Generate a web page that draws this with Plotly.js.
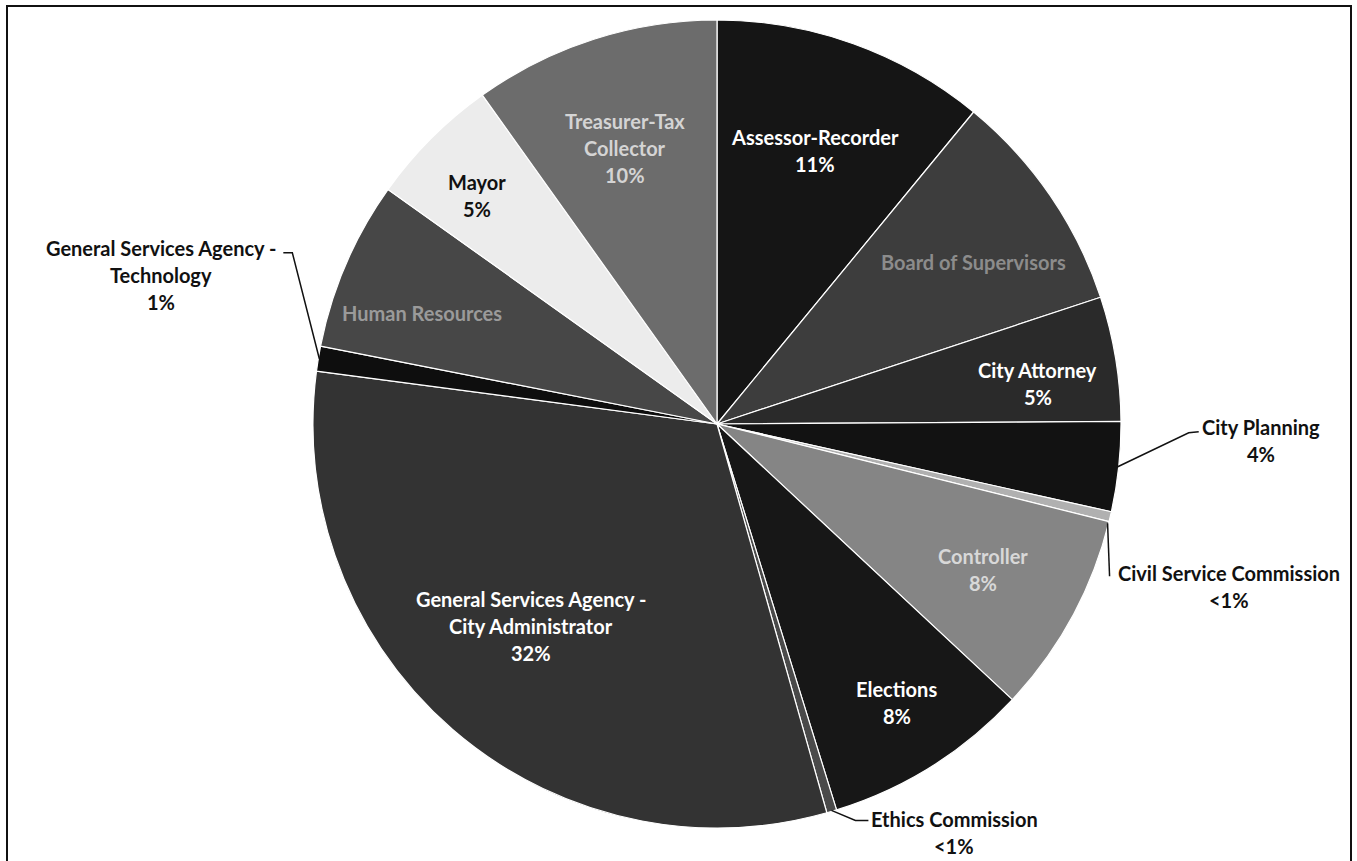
<!DOCTYPE html>
<html>
<head>
<meta charset="utf-8">
<script src="https://cdn.plot.ly/plotly-3.0.1.min.js"></script>
<style>html,body{margin:0;padding:0;background:#fff;}#chart{width:1357px;height:861px;}</style>
</head>
<body>
<div id="chart"></div>
<script>
// ---- data ----
const categories = ["Assessor-Recorder","Board of Supervisors","City Attorney","City Planning","Civil Service Commission","Controller","Elections","Ethics Commission","General Services Agency - City Administrator","General Services Agency - Technology","Human Resources","Mayor","Treasurer-Tax Collector"];
const values = [11, 9, 5, 3.6, 0.4, 8.1, 8.3, 0.4, 31.6, 1.0, 6.8, 5.3, 9.9];
const labelLines = [
  ["Assessor-Recorder","11%"],
  ["Board of Supervisors"],
  ["City Attorney","5%"],
  ["City Planning","4%"],
  ["Civil Service Commission","&lt;1%"],
  ["Controller","8%"],
  ["Elections","8%"],
  ["Ethics Commission","&lt;1%"],
  ["General Services Agency -","City Administrator","32%"],
  ["General Services Agency -","Technology","1%"],
  ["Human Resources"],
  ["Mayor","5%"],
  ["Treasurer-Tax","Collector","10%"]
];

// ---- style ----
const colors = ["#151515","#3d3d3d","#2a2a2a","#121212","#b0b0b0","#858585","#171717","#4a4a4a","#333333","#0e0e0e","#474747","#ececec","#6c6c6c"];
const textColors = ["#ffffff","#8c8c8c","#ffffff","#111111","#111111","#d8d8d8","#ffffff","#111111","#ffffff","#111111","#9a9a9a","#111111","#d4d4d4"];
// inside: r fraction + angle shift; outside: label offset, leader points (relative to slice edge)
const labelStyle = [
  {r:0.72, shift:0},
  {r:0.75, shift:2.2},
  {r:0.80, shift:2.2},
  {out:[143,-26], leader:[[71,-34],[81,-35]]},
  {out:[121,63], leader:[[2,53]], edgeShift:1},
  {r:0.75, shift:0.2},
  {r:0.82, shift:-0.8},
  {out:[123,22], leader:[[24,10],[37,10]]},
  {r:0.68, shift:1.7},
  {out:[-158,-84], leader:[[-27,-106],[-36,-106]]},
  {r:0.78, shift:-2.6},
  {r:0.82, shift:-1.5},
  {r:0.72, shift:-0.7}
];

const W = 1357, H = 861;
const M = {l:77, r:0, t:20, b:33};
const pw = W - M.l - M.r, ph = H - M.t - M.b;
const cx = M.l + pw/2, cy = M.t + ph/2, R = Math.min(pw, ph)/2;
function toPaper(X, Y){ return [(X - M.l)/pw, 1 - (Y - M.t)/ph]; }
function polar(theta, r){ const a = theta*Math.PI/180; return [cx + r*Math.sin(a), cy - r*Math.cos(a)]; }

const total = values.reduce((a,b)=>a+b,0);
let cum = 0;
const mids = values.map(v => { const m = (cum + v/2)/total*360; cum += v; return m; });

const annotations = [];
const shapes = [];
const lineGap = 27;

labelLines.forEach((lines, i) => {
  const st = labelStyle[i];
  let Xc, Yc;
  if (st.out) {
    const [ex, ey] = polar(mids[i] + (st.edgeShift||0), R - 1);
    Xc = ex + st.out[0]; Yc = ey + st.out[1];
    let path = "";
    const pts = [[ex, ey]].concat(st.leader.map(p => [ex + p[0], ey + p[1]]));
    pts.forEach((p, k) => { const q = toPaper(p[0], p[1]); path += (k ? " L " : "M ") + q[0] + " " + q[1]; });
    shapes.push({type:"path", xref:"paper", yref:"paper", path: path, line:{color:"#111", width:1.5}});
  } else {
    [Xc, Yc] = polar(mids[i] + st.shift, R*st.r);
  }
  const n = lines.length;
  lines.forEach((t, k) => {
    const Y = Yc + (k - (n-1)/2)*lineGap;
    const p = toPaper(Xc, Y);
    annotations.push({
      xref:"paper", yref:"paper", x:p[0], y:p[1], xanchor:"center", yanchor:"middle",
      text:"<b>" + t + "</b>", showarrow:false,
      font:{family:"Lato, 'Open Sans', sans-serif", size:20, color:textColors[i]}
    });
  });
});

// chart border
const b0 = toPaper(7, 6), b1 = toPaper(1351, 900);
shapes.push({type:"rect", xref:"paper", yref:"paper", x0:b0[0], y0:b0[1], x1:b1[0], y1:b1[1], line:{color:"#111", width:2}, fillcolor:"rgba(0,0,0,0)"});

const trace = {
  type:"pie",
  labels: categories,
  values: values,
  sort:false,
  direction:"clockwise",
  rotation:0,
  textinfo:"none",
  hoverinfo:"label+percent",
  marker:{colors: colors, line:{color:"#ffffff", width:1.2}},
  showlegend:false
};

const layout = {
  width: W, height: H,
  margin: M,
  paper_bgcolor:"#ffffff",
  plot_bgcolor:"#ffffff",
  showlegend:false,
  annotations: annotations,
  shapes: shapes
};

Plotly.newPlot("chart", [trace], layout, {displayModeBar:false, staticPlot:true});
</script>
</body>
</html>
